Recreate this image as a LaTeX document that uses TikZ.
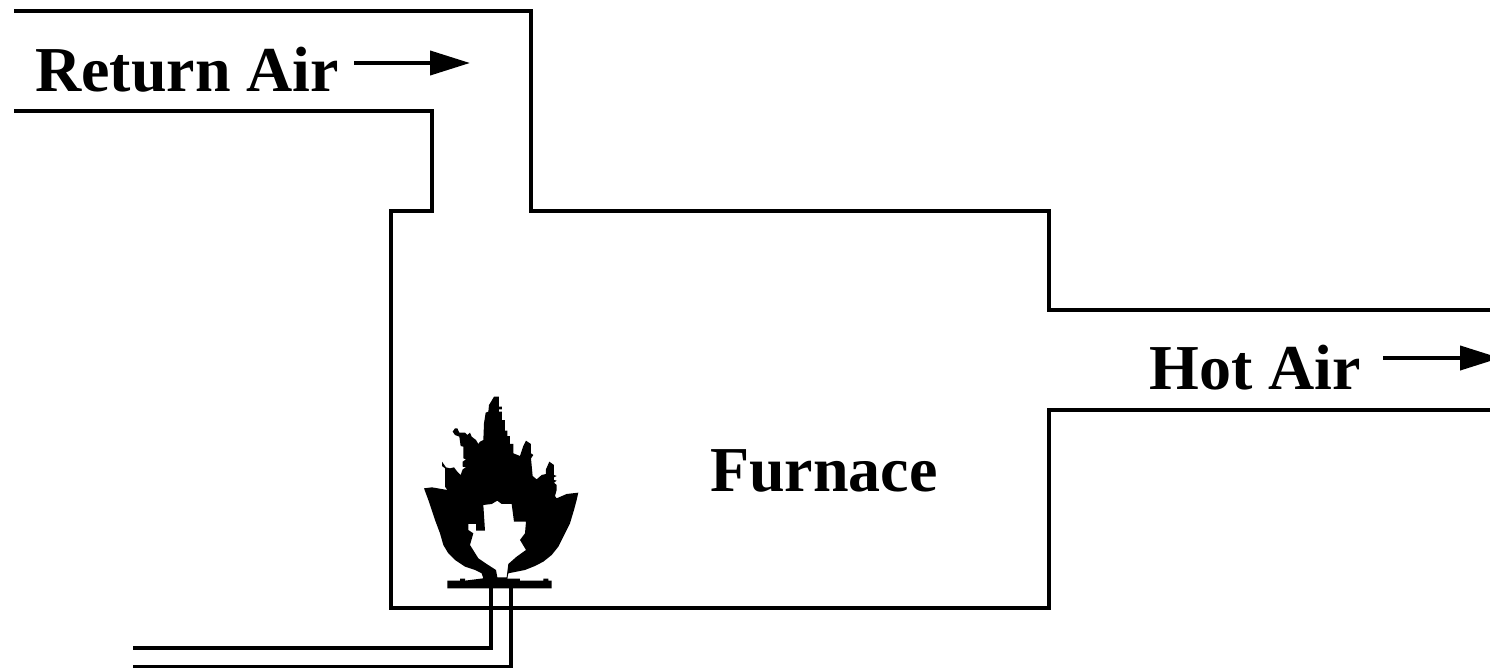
\documentclass[tikz,border=0pt]{standalone}
\usepackage{fontspec}
\setmainfont{Liberation Serif}
\usetikzlibrary{arrows.meta}
\tikzset{
  wall/.style={draw=black,line width=4pt,line join=miter,line cap=butt},
  pipe/.style={draw=black,line width=3.5pt,line join=miter},
  flow/.style={draw=black,line width=4pt,-{Triangle[length=40pt,width=24pt]}},
  lbl/.style={font=\fontsize{64}{64}\selectfont\bfseries,inner sep=0pt,anchor=base west,text=black},
  flame/.style={fill=black,draw=none,even odd rule}
}
\begin{document}
\begin{tikzpicture}[x=1pt,y=-1pt]
\useasboundingbox[fill=white] (0,0) rectangle (1490,669);
% ducts
\draw[wall] (14,11.3) -- (531,11.3) -- (531,211) -- (1049,211) -- (1049,310) -- (1490,310);
\draw[wall] (14,111) -- (432,111) -- (432,211) -- (391,211) -- (391,608) -- (1049,608) -- (1049,410) -- (1490,410);
% gas pipes
\draw[pipe] (133,648) -- (491,648) -- (491,588);
\draw[pipe] (133,666.5) -- (511,666.5) -- (511,588);
% flame
\begin{scope}[shift={(420,390)},x=0.3333pt,y=-0.3333pt]
\path[flame]
 (222,20) -- (237,20) -- (237,50) -- (246,50) -- (246,58) -- (237,58) -- (237,65) -- (246,65) -- (246,90) -- (255,90) -- (255,122) -- (262,122) -- (262,138) -- (270,138) -- (270,162) -- (280,162) -- (280,190) -- (300,198) -- (310,168) -- (318,152) -- (333,162) -- (333,190) -- (340,195) -- (333,205) -- (338,258) -- (350,268) -- (365,255) -- (378,252) -- (378,238) -- (388,215) -- (402,225) -- (402,255) -- (410,258) -- (402,262) -- (402,270) -- (410,272) -- (402,278) -- (410,285) -- (410,300)
 -- (405,318) -- (410,325) -- (440,312) -- (475,308) -- (470,330) -- (462,360) -- (450,400) -- (430,440) -- (415,470) -- (395,495) -- (370,515) -- (345,528) -- (315,540) -- (265,550) -- (262,566) -- (300,566) -- (300,572) -- (370,572) -- (370,566) -- (385,566) -- (385,572) -- (395,572) -- (395,595) -- (82,595) -- (82,572) -- (120,572) -- (120,566) -- (135,566) -- (135,572) -- (190,565) -- (185,550) -- (165,540) -- (135,530) -- (105,510) -- (85,490) -- (70,465) -- (60,430) -- (45,390) -- (35,360) -- (25,330) -- (12,295) -- (36,292) -- (82,300)
 -- (75,290) -- (75,235) -- (66,228) -- (66,215) -- (78,232) -- (90,235) -- (102,232) -- (112,245) -- (122,255) -- (128,238) -- (138,232) -- (128,230) -- (128,215) -- (138,208) -- (130,205) -- (130,170) -- (122,168) -- (118,140) -- (105,135) -- (98,125) -- (105,115) -- (112,115) -- (118,128) -- (135,128) -- (142,135) -- (150,128) -- (155,140) -- (168,150) -- (175,162) -- (180,155) -- (190,150) -- (192,100) -- (197,68) -- (205,65) -- (207,45) -- (215,32) -- cycle
 (190,345) -- (215,342) -- (232,332) -- (245,342) -- (275,342) -- (282,395) -- (318,395) -- (315,430) -- (300,450) -- (318,480) -- (290,500) -- (265,522) -- (260,562) -- (232,562) -- (228,540) -- (200,522) -- (175,505) -- (150,465) -- (160,430) -- (145,420) -- (145,402) -- (168,402) -- (168,422) -- (195,422) -- cycle;
\end{scope}
% labels
\node[lbl] (ret) at (35,91) {Return Air};
\node[lbl] (hot) at (1149,389) {Hot Air};
\node[lbl] (fur) at (710,491) {Furnace};
% arrows
\coordinate (r1) at (354,63); \coordinate (r2) at (470,63);
\coordinate (h1) at (1383,358); \coordinate (h2) at (1500,358);
\draw[flow] (r1) -- (r2);
\draw[flow] (h1) -- (h2);
\end{tikzpicture}
\end{document}
